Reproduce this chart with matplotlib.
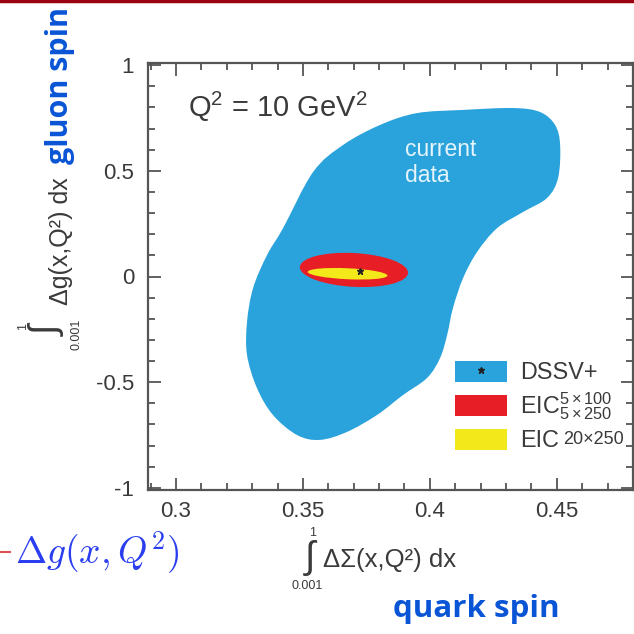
import numpy as np
import matplotlib
matplotlib.use('Agg')
import matplotlib.pyplot as plt
from matplotlib.path import Path
from matplotlib.patches import PathPatch, Patch, Ellipse
from matplotlib.lines import Line2D
from matplotlib.transforms import Affine2D

plt.rcParams['font.family'] = ['Liberation Sans', 'DejaVu Sans']
plt.rcParams['mathtext.fontset'] = 'custom'
plt.rcParams['mathtext.rm'] = 'Liberation Sans'
plt.rcParams['mathtext.it'] = 'Liberation Sans'
plt.rcParams['mathtext.bf'] = 'Liberation Sans:bold'

# outline of the "current data" region (DSSV+)
blob_x = [0.3422, 0.3540, 0.3658, 0.3804, 0.3949, 0.4131, 0.4328, 0.4434,
          0.4493, 0.4513, 0.4505, 0.4461, 0.4367, 0.4265, 0.4186, 0.4131,
          0.4091, 0.4068, 0.4040, 0.3989, 0.3894, 0.3792, 0.3674, 0.3567,
          0.3477, 0.3382, 0.3319, 0.3280, 0.3280, 0.3304, 0.3359]
blob_y = [0.229, 0.494, 0.622, 0.717, 0.773, 0.788, 0.797, 0.778,
          0.717, 0.622, 0.466, 0.371, 0.305, 0.229, 0.116, -0.007,
          -0.149, -0.277, -0.386, -0.480, -0.561, -0.655, -0.735, -0.773,
          -0.750, -0.655, -0.527, -0.371, -0.215, -0.054, 0.102]

# EIC projections: centre x, centre y, half width, half height, tilt
eic_red = (0.3701, 0.031, 0.0213, 0.080, -0.6)
eic_yellow = (0.3676, 0.013, 0.0157, 0.026, -0.55)
best_fit = (0.3725, 0.027)

blue = '#2aa3dc'
red = '#e81e26'
yellow = '#f2e81a'
txt = '#3a3a3a'
spine = '#555555'


def smooth_closed(xs, ys):
    # closed Catmull-Rom outline written as cubic bezier path
    p = np.column_stack([xs, ys])
    n = len(p)
    verts = [p[0]]
    codes = [Path.MOVETO]
    for i in range(n):
        p0, p1, p2, p3 = p[i - 1], p[i], p[(i + 1) % n], p[(i + 2) % n]
        verts += [p1 + (p2 - p0) / 6, p2 - (p3 - p1) / 6, p2]
        codes += [Path.CURVE4] * 3
    return Path(verts, codes)


def tilted_ellipse(ax, e, color, z):
    xc, yc, a, b, k = e
    el = Ellipse((0, 0), 2 * a, 2 * b, facecolor=color, edgecolor='none', zorder=z)
    shear = Affine2D(np.array([[1, 0, 0], [k, 1, 0], [0, 0, 1]]))
    el.set_transform(shear + Affine2D().translate(xc, yc) + ax.transData)
    ax.add_patch(el)


fig = plt.figure(figsize=(6.34, 6.34), dpi=100)
ax = fig.add_axes([148 / 634, 1 - 490 / 634, 485 / 634, 427 / 634])

ax.add_patch(PathPatch(smooth_closed(blob_x, blob_y), facecolor=blue,
                       edgecolor='none', zorder=1))
tilted_ellipse(ax, eic_red, red, 2)
tilted_ellipse(ax, eic_yellow, yellow, 3)
ax.plot(*best_fit, marker='*', color='#222222', ms=5, ls='', zorder=4)

ax.set_xlim(0.289, 0.48)
ax.set_ylim(-1.01, 1.01)
ax.set_xticks([0.3, 0.35, 0.4, 0.45])
ax.set_xticklabels(['0.3', '0.35', '0.4', '0.45'])
ax.set_yticks([-1, -0.5, 0, 0.5, 1])
ax.set_yticklabels(['-1', '-0.5', '0', '0.5', '1'])
ax.set_xticks(np.arange(0.29, 0.481, 0.01), minor=True)
ax.set_yticks(np.arange(-1, 1.01, 0.1), minor=True)
ax.tick_params(which='both', direction='in', top=True, right=True,
               color=spine, width=1.3)
ax.tick_params(which='major', length=9, labelsize=16, labelcolor=txt)
ax.tick_params(which='minor', length=5)
ax.tick_params(axis='x', pad=8)
ax.tick_params(axis='y', pad=10)
for s in ax.spines.values():
    s.set_color(spine)
    s.set_linewidth(1.6)

ax.text(0.083, 0.897, r'Q$^2$ = 10 GeV$^2$', transform=ax.transAxes, fontsize=21,
        color=txt, va='center', ha='left')
ax.text(0.53, 0.825, 'current\ndata', transform=ax.transAxes, fontsize=16.5,
        color='#e6f4fb', va='top', ha='left', linespacing=1.2)

handles = [(Patch(facecolor=blue), Line2D([], [], marker='*', color='#222222', ms=5, ls='')),
           Patch(facecolor=red), Patch(facecolor=yellow)]
labels = ['DSSV+', r'EIC$^{5\times100}_{5\times250}$', 'EIC']
leg = ax.legend(handles, labels, loc='upper left', bbox_to_anchor=(0.633, 0.303),
                frameon=False, fontsize=16.8, borderpad=0, borderaxespad=0,
                handlelength=2.23, handleheight=1.0, handletextpad=0.56,
                labelspacing=0.28)
for t in leg.get_texts():
    t.set_color(txt)
ax.annotate('20×250', xy=(1, 0.2), xycoords=leg.get_texts()[2], xytext=(3, 0),
            textcoords='offset points', fontsize=13, color=txt,
            ha='left', va='bottom', zorder=10)

# axis titles drawn piecewise: integral sign with limits above and below
fig.text(310 / 634, 1 - 558 / 634, '∫', fontsize=27, color=txt, ha='center', va='center')
fig.text(313 / 634, 1 - 533 / 634, '1', fontsize=9, color=txt, ha='center', va='center')
fig.text(307 / 634, 1 - 586 / 634, '0.001', fontsize=9, color=txt, ha='center', va='center')
fig.text(323 / 634, 1 - 560 / 634, 'ΔΣ(x,Q²) dx', fontsize=18.5, color=txt,
         ha='left', va='center')

fig.text(48 / 634, 1 - 331 / 634, '∫', fontsize=27, color=txt, ha='center',
         va='center', rotation=90)
fig.text(23 / 634, 1 - 327 / 634, '1', fontsize=9, color=txt, ha='center',
         va='center', rotation=90)
fig.text(77 / 634, 1 - 334 / 634, '0.001', fontsize=9, color=txt, ha='center',
         va='center', rotation=90)
fig.text(61 / 634, 1 - 305 / 634, 'Δg(x,Q²) dx', fontsize=18, color=txt,
         ha='center', va='bottom', rotation=90)

fig.text(60 / 634, 1 - 86 / 634, 'gluon spin', fontsize=22, fontweight='bold',
         family='Open Sans', color='#0a55d6', rotation=90, ha='center', va='center')
fig.text(476 / 634, 1 - 609 / 634, 'quark spin', fontsize=22.5, fontweight='bold',
         family='Open Sans', color='#0a55d6', ha='center', va='center')

fig.text(15 / 634, 1 - 553 / 634, r'$\Delta g(x,Q^2)$', fontsize=27,
         math_fontfamily='cm', color='#2a3ef0', ha='left', va='center')
fig.add_artist(Line2D([0, 10 / 634], [1 - 552 / 634] * 2, color='#e05050', lw=1.5))
fig.add_artist(Line2D([0, 1], [1 - 1 / 634] * 2, color='#9a0010', lw=2.5))

fig.savefig('out.png', dpi=100)
